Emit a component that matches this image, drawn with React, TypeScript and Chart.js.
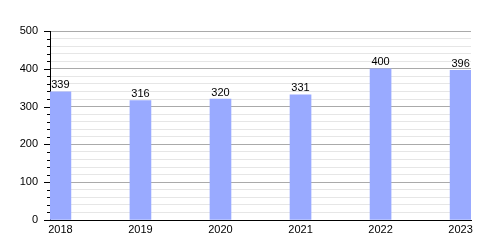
import React, { useEffect, useRef } from "react";
import { Chart, registerables } from "chart.js";

Chart.register(...registerables);

const years = [2018, 2019, 2020, 2021, 2022, 2023];
const values = [339, 316, 320, 331, 400, 396];
const yTickStep = 20;
const yMax = 500;

const tickMarks = {
  id: "tickMarks",
  afterDraw(chart: any) {
    const y = chart.scales.y;
    const ctx = chart.ctx;
    ctx.save();
    ctx.strokeStyle = "#000";
    ctx.lineWidth = 1;
    for (let v = 0; v <= yMax; v += yTickStep) {
      const py = Math.round(y.getPixelForValue(v)) + 0.5;
      const len = v % 100 === 0 ? 6 : 3;
      ctx.beginPath();
      ctx.moveTo(y.right - len, py);
      ctx.lineTo(y.right, py);
      ctx.stroke();
    }
    ctx.restore();
  },
};

const valueLabels = {
  id: "valueLabels",
  afterDatasetsDraw(chart: any) {
    const ctx = chart.ctx;
    const meta = chart.getDatasetMeta(0);
    ctx.save();
    ctx.fillStyle = "#000";
    ctx.font = "11px 'Liberation Sans', Arial, sans-serif";
    ctx.textAlign = "center";
    ctx.textBaseline = "bottom";
    meta.data.forEach((bar: any, i: number) => {
      ctx.fillText(String(values[i]), bar.x, bar.y - 1);
    });
    ctx.restore();
  },
};

export default function App() {
  const ref = useRef<HTMLCanvasElement>(null);
  useEffect(() => {
    document.body.style.margin = "0";
    Chart.defaults.font.family = "'Liberation Sans', Arial, sans-serif";
    Chart.defaults.font.size = 11;
    Chart.defaults.color = "#000";
    const chart = new Chart(ref.current!, {
      type: "bar",
      data: {
        datasets: [
          {
            data: years.map((yr, i) => ({ x: yr, y: values[i] })),
            backgroundColor: "#99aaff",
            barThickness: 21,
          },
        ],
      },
      options: {
        animation: false,
        responsive: false,
        layout: { padding: { top: 31, right: 29, left: 0, bottom: 0 } },
        plugins: { legend: { display: false }, tooltip: { enabled: false } },
        scales: {
          x: {
            type: "linear",
            offset: false,
            min: 2017.87,
            max: 2023.13,
            afterBuildTicks: (s: any) => {
              s.ticks = years.map((v) => ({ value: v }));
            },
            afterFit: (s: any) => {
              s.height = 30;
            },
            grid: { display: false, drawTicks: false, offset: false },
            border: { color: "#000", width: 1 },
            ticks: {
              padding: 3,
              maxRotation: 0,
              autoSkip: false,
              callback: (v: any) => String(v),
            },
          },
          y: {
            min: 0,
            max: yMax,
            afterFit: (s: any) => {
              s.width = 50;
            },
            border: { color: "#000", width: 1 },
            grid: {
              drawTicks: false,
              color: (c: any) =>
                c.tick && c.tick.value % 100 === 0 ? "#aaaaaa" : "#e6e6e6",
            },
            ticks: {
              stepSize: yTickStep,
              padding: 12,
              autoSkip: false,
              callback: (v: any) => (v % 100 === 0 ? String(v) : ""),
            },
          },
        },
      },
      plugins: [tickMarks, valueLabels],
    });
    return () => chart.destroy();
  }, []);
  return <canvas ref={ref} width={500} height={250} style={{ display: "block" }} />;
}
